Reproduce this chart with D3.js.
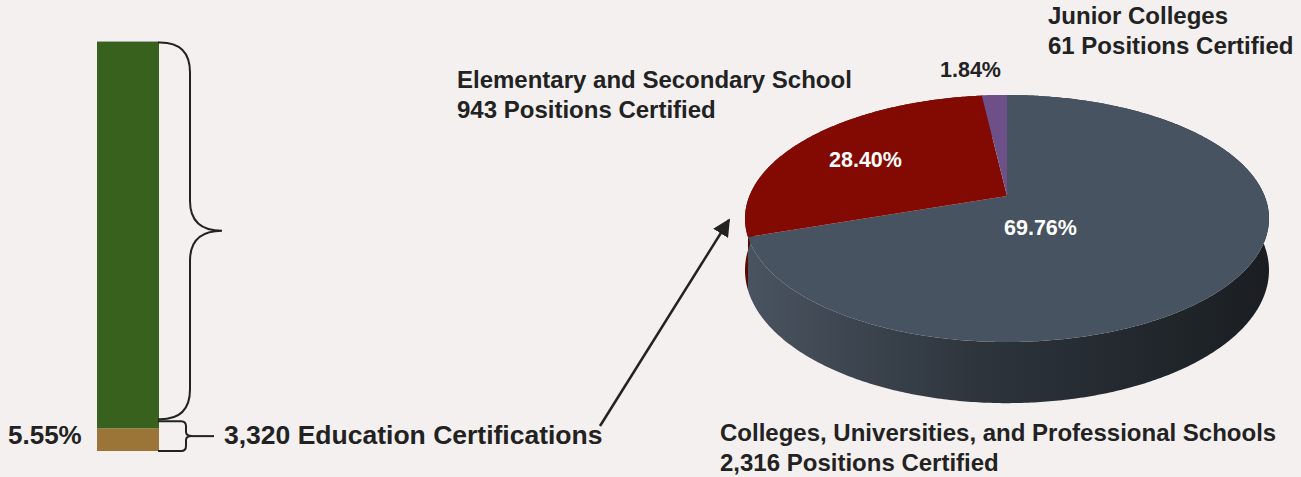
<!DOCTYPE html>
<html>
<head>
<meta charset="utf-8">
<script src="https://cdn.jsdelivr.net/npm/d3@7"></script>
<style>
  body { margin: 0; background: #f4f0ef; }
  svg { display: block; font-family: "Liberation Sans", Arial, sans-serif; font-weight: bold; }
</style>
</head>
<body>
<div id="app"></div>
<script>
// bar: share of all certifications
const barCategories = ['Education Certifications', 'Other Certifications'];
const barShares = [5.55, 94.45];
const educationTotal = 3320;

// pie: education certifications by school type
const pieCategories = ['Colleges, Universities, and Professional Schools', 'Elementary and Secondary School', 'Junior Colleges'];
const pieCounts = [2316, 943, 61];
const pieShares = [69.76, 28.40, 1.84];

const WIDTH = 1301, HEIGHT = 477;
const TEXT = '#222';

const svg = d3.select('#app').append('svg')
  .attr('width', WIDTH)
  .attr('height', HEIGHT);

svg.append('rect').attr('width', WIDTH).attr('height', HEIGHT).attr('fill', '#f4f0ef');

// ---------- stacked bar ----------
const y = d3.scaleLinear().domain([0, 100]).range([451, 41]);
const barX = 97, barW = 62;
const barColors = d3.scaleOrdinal().domain(barCategories).range(['#9b7538', '#37611c']);

let acc = 0;
const segs = barShares.map((v, i) => {
  const s = { cat: barCategories[i], y0: acc, y1: acc + v };
  acc += v;
  return s;
});

svg.selectAll('rect.seg')
  .data(segs)
  .enter()
  .append('rect')
    .attr('class', 'seg')
    .attr('x', barX)
    .attr('width', barW)
    .attr('y', d => y(d.y1))
    .attr('height', d => y(d.y0) - y(d.y1))
    .attr('fill', d => barColors(d.cat));

svg.append('line')
  .attr('x1', barX).attr('x2', barX + barW)
  .attr('y1', y(100) + 0.5).attr('y2', y(100) + 0.5)
  .attr('stroke', '#a6aaa2').attr('stroke-width', 1);

// curly brace opening to the left
function brace(x0, xv, tip, yTop, yBot, r, rt) {
  const mid = (yTop + yBot) / 2;
  return ['M', x0, yTop,
    'L', xv - r, yTop,
    'Q', xv, yTop, xv, yTop + r,
    'L', xv, mid - rt,
    'Q', xv, mid, tip, mid,
    'Q', xv, mid, xv, mid + rt,
    'L', xv, yBot - r,
    'Q', xv, yBot, xv - r, yBot,
    'L', x0, yBot].join(' ');
}

const bx = barX + barW - 1;
svg.append('path')
  .attr('d', brace(bx, 190, 222, y(segs[1].y1) + 1.5, y(segs[1].y0) - 9, 30, 30))
  .attr('fill', 'none').attr('stroke', TEXT).attr('stroke-width', 2);

const smallMid = (y(segs[0].y1) - 7 + y(0)) / 2;
svg.append('path')
  .attr('d', brace(bx, 186, 192, y(segs[0].y1) - 7, y(0), 5, 4))
  .attr('fill', 'none').attr('stroke', TEXT).attr('stroke-width', 2);
svg.append('line')
  .attr('x1', 192).attr('x2', 214)
  .attr('y1', smallMid).attr('y2', smallMid)
  .attr('stroke', TEXT).attr('stroke-width', 2);

svg.append('text')
  .attr('x', 8).attr('y', 444)
  .attr('font-size', 26).attr('fill', TEXT)
  .text(d3.format('.2f')(barShares[0]) + '%');

svg.append('text')
  .attr('x', 224).attr('y', 444)
  .attr('font-size', 26.5).attr('fill', TEXT)
  .text(d3.format(',')(educationTotal) + ' ' + barCategories[0]);

// arrow to the pie
const defs = svg.append('defs');
defs.append('marker')
  .attr('id', 'arrow')
  .attr('viewBox', '0 0 10 10')
  .attr('refX', 9).attr('refY', 5)
  .attr('markerWidth', 7).attr('markerHeight', 7)
  .attr('markerUnits', 'strokeWidth')
  .attr('orient', 'auto')
  .append('path')
    .attr('d', 'M0,0 L10,5 L0,10 Z')
    .attr('fill', TEXT);

svg.append('line')
  .attr('x1', 600).attr('y1', 426)
  .attr('x2', 729).attr('y2', 220)
  .attr('stroke', TEXT).attr('stroke-width', 2.5)
  .attr('marker-end', 'url(#arrow)');

// ---------- 3D pie ----------
const cx = 1007, cyTop = 196;
const rx = 257.6;
const persp = -0.1822;       // perspective factor on the depth axis
const ya = 83.69;            // vertical half-extent before perspective
const depth = 50;

function project(angle, h) {
  const u = Math.sin(angle), v = -Math.cos(angle);
  const k = 1 + persp * v;
  return [cx + rx * u / k, (ya * v + cyTop) / k + h * depth / k];
}

const pieColors = d3.scaleOrdinal().domain(pieCategories).range(['#475360', '#820a02', '#6d5088']);
const wallColors = d3.scaleOrdinal().domain(pieCategories).range(['url(#wallGrad)', '#5c0700', '#4d3862']);

const grad = defs.append('linearGradient')
  .attr('id', 'wallGrad')
  .attr('gradientUnits', 'userSpaceOnUse')
  .attr('x1', cx - rx * 1.02).attr('x2', cx + rx * 1.02)
  .attr('y1', 0).attr('y2', 0);
grad.append('stop').attr('offset', '0%').attr('stop-color', '#4a5460');
grad.append('stop').attr('offset', '45%').attr('stop-color', '#2d343c');
grad.append('stop').attr('offset', '100%').attr('stop-color', '#1a1e22');

const pie = d3.pie().sort(null).value(d => d.count);
const arcs = pie(pieCategories.map((c, i) => ({ cat: c, count: pieCounts[i], share: pieShares[i] })));

function rim(a0, a1, h) {
  const n = Math.max(2, Math.ceil((a1 - a0) / 0.01));
  return d3.range(n + 1).map(i => project(a0 + (a1 - a0) * i / n, h));
}

const line = d3.line();

// outer walls
svg.selectAll('path.wall')
  .data(arcs)
  .enter()
  .append('path')
    .attr('class', 'wall')
    .attr('d', d => line(rim(d.startAngle, d.endAngle, 0).concat(rim(d.startAngle, d.endAngle, 1).reverse())) + 'Z')
    .attr('fill', d => wallColors(d.data.cat));

// top faces
svg.selectAll('path.top')
  .data(arcs)
  .enter()
  .append('path')
    .attr('class', 'top')
    .attr('d', d => line([[cx, cyTop]].concat(rim(d.startAngle, d.endAngle, 0))) + 'Z')
    .attr('fill', d => pieColors(d.data.cat));

// percentage labels
const pctLabels = [
  { x: 1004, y: 235, fill: '#fff' },
  { x: 829, y: 167, fill: '#fff' },
  { x: 940, y: 77, fill: TEXT }
];
svg.selectAll('text.pct')
  .data(arcs)
  .enter()
  .append('text')
    .attr('class', 'pct')
    .attr('x', (d, i) => pctLabels[i].x)
    .attr('y', (d, i) => pctLabels[i].y)
    .attr('font-size', 21.5)
    .attr('fill', (d, i) => pctLabels[i].fill)
    .text(d => d3.format('.2f')(d.data.share) + '%');

// category labels
const catLabels = [
  { x: 720, y: 441 },
  { x: 457, y: 88 },
  { x: 1048, y: 24 }
];
const cl = svg.selectAll('text.cat')
  .data(arcs)
  .enter()
  .append('text')
    .attr('class', 'cat')
    .attr('font-size', 24)
    .attr('fill', TEXT);
cl.append('tspan')
  .attr('x', (d, i) => catLabels[i].x)
  .attr('y', (d, i) => catLabels[i].y)
  .text(d => d.data.cat);
cl.append('tspan')
  .attr('x', (d, i) => catLabels[i].x)
  .attr('y', (d, i) => catLabels[i].y + 30)
  .text(d => d3.format(',')(d.data.count) + ' Positions Certified');
</script>
</body>
</html>
